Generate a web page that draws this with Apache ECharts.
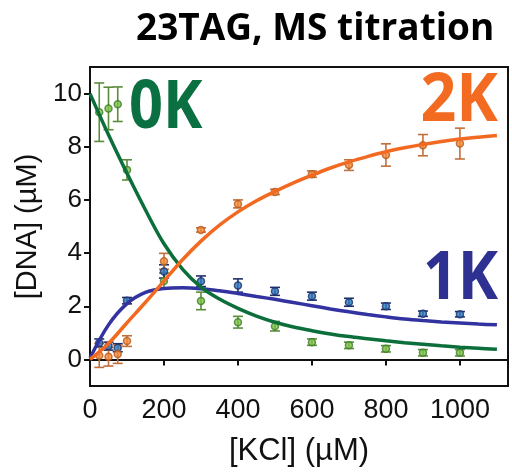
<!DOCTYPE html>
<html>
<head>
<meta charset="utf-8">
<script src="https://cdn.jsdelivr.net/npm/echarts@6/dist/echarts.min.js"></script>
<style>html,body{margin:0;padding:0;background:#fff}#c{width:512px;height:472px}</style>
</head>
<body>
<div id="c"></div>
<script>
// Measured KCl concentrations (µM)
const kcl = [25, 50, 75, 100, 200, 300, 400, 500, 600, 700, 800, 900, 1000];
// 0K species
const dna0K = [9.3, 9.44, 9.6, 7.13, 2.95, 2.2, 1.4, 1.25, 0.65, 0.53, 0.4, 0.25, 0.25];
const err0K = [1.1, 0.8, 0.65, 0.38, 0.3, 0.33, 0.22, 0.18, 0.12, 0.12, 0.12, 0.12, 0.12];
// 1K species
const dna1K = [0.62, 0.5, 0.44, 2.21, 3.31, 2.94, 2.78, 2.56, 2.38, 2.15, 2.0, 1.72, 1.7];
const err1K = [0.15, 0.15, 0.15, 0.12, 0.25, 0.2, 0.25, 0.15, 0.15, 0.15, 0.12, 0.1, 0.1];
// 2K species
const dna2K = [0.15, 0.1, 0.2, 0.69, 3.69, 4.87, 5.85, 6.3, 6.97, 7.31, 7.69, 8.06, 8.12];
const err2K = [0.45, 0.35, 0.35, 0.2, 0.3, 0.08, 0.15, 0.1, 0.12, 0.2, 0.42, 0.4, 0.58];
// Fitted curves, every 50 µM
const curveX = [0, 50, 100, 150, 200, 250, 300, 350, 400, 450, 500, 550, 600, 650, 700, 750, 800, 850, 900, 950, 1000, 1050, 1100];
const fit0K = [10.0, 8.45, 7.0, 5.62, 4.35, 3.4, 2.72, 2.27, 1.92, 1.63, 1.4, 1.22, 1.08, 0.96, 0.86, 0.78, 0.7, 0.63, 0.57, 0.51, 0.46, 0.42, 0.38];
const fit1K = [0.05, 1.3, 2.1, 2.52, 2.67, 2.7, 2.66, 2.58, 2.48, 2.37, 2.26, 2.14, 2.02, 1.9, 1.79, 1.69, 1.6, 1.52, 1.46, 1.41, 1.37, 1.33, 1.3];
const fit2K = [0, 0.6, 1.38, 2.15, 2.95, 3.75, 4.45, 5.05, 5.55, 5.97, 6.32, 6.64, 6.93, 7.2, 7.43, 7.63, 7.81, 7.96, 8.09, 8.2, 8.29, 8.36, 8.42];
// Axis tick settings
const xTickStep = 200;
const yTicks = [0, 2, 4, 6, 8, 10];

const C = {
  g: {line: '#0b6e3b', fill: '#7cc242', edge: '#3e7d2a', bar: '#5b8c3a', label: '#0b7041'},
  o: {line: '#f26a21', fill: '#f28a3a', edge: '#b85a1c', bar: '#c0703a', label: '#f26b21'},
  b: {line: '#3232a0', fill: '#2f7ac0', edge: '#1a2f6a', bar: '#1f2f6b', label: '#2e3192'}
};

function errSeries(vals, errs, col) {
  return {
    type: 'custom',
    data: kcl.map((x, i) => [x, vals[i] - errs[i], vals[i] + errs[i]]),
    renderItem: function (params, api) {
      const x = api.value(0);
      const p1 = api.coord([x, api.value(1)]);
      const p2 = api.coord([x, api.value(2)]);
      const w = 5;
      const st = {stroke: col, lineWidth: 1.6};
      return {type: 'group', children: [
        {type: 'line', shape: {x1: p1[0], y1: p1[1], x2: p2[0], y2: p2[1]}, style: st},
        {type: 'line', shape: {x1: p1[0] - w, y1: p1[1], x2: p1[0] + w, y2: p1[1]}, style: st},
        {type: 'line', shape: {x1: p2[0] - w, y1: p2[1], x2: p2[0] + w, y2: p2[1]}, style: st}
      ]};
    },
    z: 2
  };
}
function ptSeries(vals, c) {
  return {
    type: 'scatter', data: kcl.map((x, i) => [x, vals[i]]),
    symbol: 'circle', symbolSize: 7,
    itemStyle: {color: c.fill, borderColor: c.edge, borderWidth: 1.5},
    z: 3
  };
}
function fitSeries(vals, col, z) {
  return {
    type: 'line', data: curveX.map((x, i) => [x, vals[i]]),
    smooth: 0.35, showSymbol: false, symbol: 'none',
    lineStyle: {color: col, width: 3.5}, z: z
  };
}

const chart = echarts.init(document.getElementById('c'));
chart.setOption({
  animation: false,
  backgroundColor: '#fff',
  grid: {left: 90, right: 4, top: 67, bottom: 86, show: true, borderColor: '#111', borderWidth: 2, backgroundColor: 'transparent'},
  xAxis: {
    type: 'value', min: 0, max: 1130, interval: xTickStep,
    name: '[KCl] (µM)', nameLocation: 'middle', nameGap: 50,
    nameTextStyle: {fontFamily: 'Liberation Sans', fontSize: 31, color: '#111'},
    axisLine: {show: true, lineStyle: {color: '#111', width: 2}},
    axisTick: {show: true, length: 6, lineStyle: {color: '#111', width: 2}},
    axisLabel: {showMaxLabel: false, fontFamily: 'Liberation Sans', fontSize: 27, color: '#111', margin: 11,
      formatter: v => String(v)},
    splitLine: {show: false}
  },
  yAxis: {
    type: 'value', min: -1, max: 11, splitNumber: 5,
    name: '[DNA] (µM)', nameLocation: 'middle', nameGap: 44, nameRotate: 90,
    nameTextStyle: {fontFamily: 'Liberation Sans', fontSize: 29, color: '#111'},
    axisLine: {show: true, lineStyle: {color: '#111', width: 2}},
    axisTick: {show: true, length: 6, lineStyle: {color: '#111', width: 2}},
    axisLabel: {showMinLabel: false, showMaxLabel: false, fontFamily: 'Liberation Sans', fontSize: 26, color: '#111', margin: 8,
      formatter: v => (yTicks.indexOf(v) >= 0 ? String(v) : '')},
    splitLine: {show: false}
  },
  graphic: [
    {type: 'text', x: 136, y: 29, style: {text: '23TAG, MS titration', font: 'bold 37px "Open Sans"', fill: '#000', verticalAlign: 'middle', align: 'left'}},
    {type: 'text', x: 129, y: 109, scaleX: 0.9, style: {text: '0K', font: 'bold 66px "Open Sans"', fill: C.g.label, verticalAlign: 'middle', align: 'left'}},
    {type: 'text', x: 498, y: 102, scaleX: 0.95, style: {text: '2K', font: 'bold 66px "Open Sans"', fill: C.o.label, verticalAlign: 'middle', align: 'right'}},
    {type: 'text', x: 498, y: 280, scaleX: 0.92, style: {text: '1K', font: 'bold 66px "Open Sans"', fill: C.b.label, verticalAlign: 'middle', align: 'right'}}
  ],
  series: [
    errSeries(dna0K, err0K, C.g.bar), ptSeries(dna0K, C.g),
    errSeries(dna1K, err1K, C.b.bar), ptSeries(dna1K, C.b),
    errSeries(dna2K, err2K, C.o.bar), ptSeries(dna2K, C.o),
    fitSeries(fit1K, C.b.line, 4),
    fitSeries(fit0K, C.g.line, 5),
    fitSeries(fit2K, C.o.line, 6)
  ]
});
</script>
</body>
</html>
